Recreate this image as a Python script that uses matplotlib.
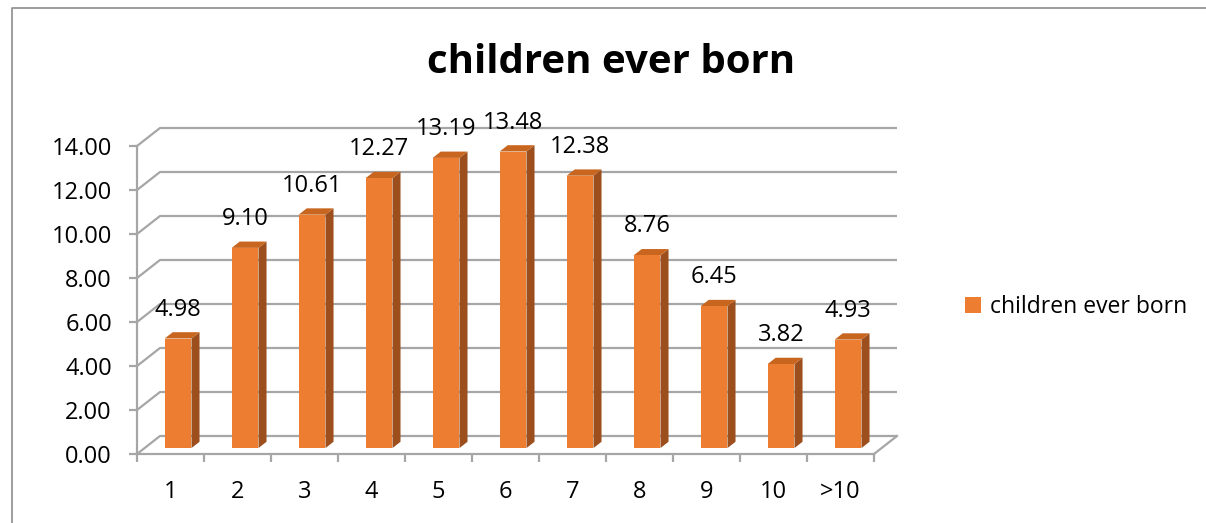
import numpy as np
import matplotlib
matplotlib.use("Agg")
import matplotlib.pyplot as plt
from matplotlib.patches import Polygon, Patch
from matplotlib.lines import Line2D

plt.rcParams['font.family'] = ['Open Sans', 'DejaVu Sans']

# data
categories = ["1", "2", "3", "4", "5", "6", "7", "8", "9", "10", ">10"]
values = [4.98, 9.10, 10.61, 12.27, 13.19, 13.48, 12.38, 8.76, 6.45, 3.82, 4.93]
y_ticks = [0, 2, 4, 6, 8, 10, 12, 14]
series_name = "children ever born"
title = "children ever born"

# colours
FRONT = "#ED7D31"
SIDE = "#9C4F1D"
TOP = "#C8661F"
GRID = "#A6A6A6"

# fake 3d: offset of the back wall in data units
DX, DY = 0.343, 0.818
BAR_W = 0.40      # bar width in category units
BAR_F = 0.33      # depth position of bar front face
BAR_D = 0.35      # bar depth

W, H = 1206, 523
fig = plt.figure(figsize=(W / 100, H / 100), dpi=100)

# front plane of the plot: x 137..874 px, y 454..146 px
ax = fig.add_axes([137 / W, (H - 454) / H, (874 - 137) / W, (454 - 146) / H])
n = len(categories)
ax.set_xlim(0, n)
ax.set_ylim(0, 14)
for s in ["top", "right"]:
    ax.spines[s].set_visible(False)
for s in ["left", "bottom"]:
    ax.spines[s].set_color(GRID)
    ax.spines[s].set_linewidth(1.6)

# back wall gridlines plus the diagonal on the side wall
for v in y_ticks:
    ax.plot([0, DX, n + DX], [v, v + DY, v + DY], color=GRID, lw=1.6,
            clip_on=False, zorder=1, solid_capstyle="butt")
# right edge of the floor
ax.plot([n, n + DX], [0, DY], color=GRID, lw=1.6, clip_on=False, zorder=1)

# bars
for i, v in enumerate(values):
    xc = i + 0.5 + BAR_F * DX
    xl, xr = xc - BAR_W / 2, xc + BAR_W / 2
    yb = BAR_F * DY
    yt = yb + v
    ddx, ddy = BAR_D * DX, BAR_D * DY
    side = Polygon([(xr, yb), (xr + ddx, yb + ddy), (xr + ddx, yt + ddy), (xr, yt)],
                   closed=True, facecolor=SIDE, edgecolor="none", zorder=3, clip_on=False)
    top = Polygon([(xl, yt), (xr, yt), (xr + ddx, yt + ddy), (xl + ddx, yt + ddy)],
                  closed=True, facecolor=TOP, edgecolor="none", zorder=3, clip_on=False)
    front = Polygon([(xl, yb), (xr, yb), (xr, yt), (xl, yt)],
                    closed=True, facecolor=FRONT, edgecolor="none", zorder=4, clip_on=False)
    ax.add_patch(side)
    ax.add_patch(top)
    ax.add_patch(front)
    ax.annotate(f"{v:.2f}", (xc, yt), xytext=(0, 17), textcoords="offset pixels",
                ha="center", va="bottom", fontsize=17, color="#000000",
                annotation_clip=False, zorder=5)

# y axis
ax.set_yticks(y_ticks)
ax.set_yticklabels([f"{v:.2f}" for v in y_ticks])
ax.tick_params(axis="y", direction="out", length=6, width=1.6, color=GRID,
               pad=12, labelsize=17, labelcolor="#000000")

# x axis: tick marks between categories, labels at centres
ax.set_xticks(np.arange(n + 1))
ax.set_xticklabels([])
ax.set_xticks(np.arange(n) + 0.5, minor=True)
ax.set_xticklabels(categories, minor=True)
ax.tick_params(axis="x", which="major", direction="out", length=6, width=1.6, color=GRID)
ax.tick_params(axis="x", which="minor", length=0, pad=19, labelsize=17, labelcolor="#000000")

# title
fig.text(611 / W, 1 - 62 / H, title, ha="center", va="center",
         fontsize=29, fontweight="bold", color="#000000")

# legend
handle = Patch(facecolor=FRONT, edgecolor="none")
fig.legend([handle], [series_name], loc="center left",
           bbox_to_anchor=(944 / W, 1 - 307 / H), frameon=False, fontsize=16.5,
           handlelength=0.7, handleheight=0.7, handletextpad=0.4)

# chart area border (top and left edges)
fig.add_artist(Line2D([12 / W, 12 / W, 1.0], [0.0, 1 - 8 / H, 1 - 8 / H],
                      transform=fig.transFigure, color="#8C8C8C", lw=1.2))

fig.savefig("out.png", dpi=100, facecolor="white")
